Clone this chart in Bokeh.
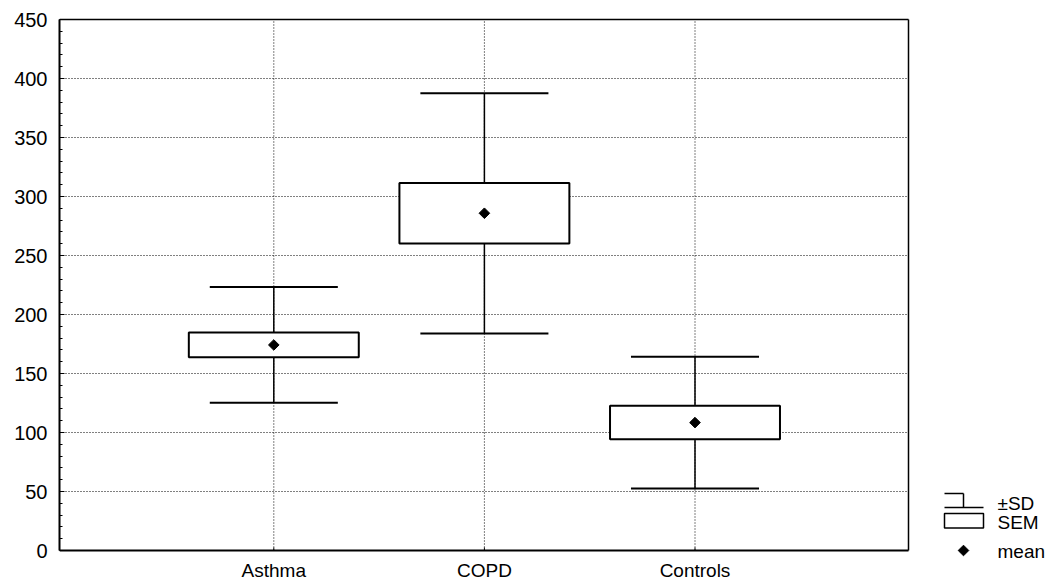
from bokeh.plotting import figure
from bokeh.models import Range1d, SingleIntervalTicker, ColumnDataSource
from bokeh.core.properties import value
from bokeh.embed import file_html
from bokeh.resources import INLINE

# ---- data ----
categories = ["Asthma", "COPD", "Controls"]
positions = [1, 2, 3]
mean = [174.2, 285.8, 108.4]
sem = [10.5, 25.6, 14.2]
sd = [49.0, 101.8, 55.9]
y_grid_values = [50, 100, 150, 200, 250, 300, 350, 400]
legend_labels = ["\u00b1SD", "SEM", "mean"]

sem_lo = [m - s for m, s in zip(mean, sem)]
sem_hi = [m + s for m, s in zip(mean, sem)]
sd_lo = [m - s for m, s in zip(mean, sd)]
sd_hi = [m + s for m, s in zip(mean, sd)]

CAP_W = 0.608
BOX_W = 0.807
cap_x0 = [x - CAP_W / 2 for x in positions]
cap_x1 = [x + CAP_W / 2 for x in positions]

src = ColumnDataSource(dict(x=positions, mean=mean, sem_lo=sem_lo, sem_hi=sem_hi,
                            sd_lo=sd_lo, sd_hi=sd_hi, cx0=cap_x0, cx1=cap_x1,
                            label=categories))

FONT = "Liberation Sans"
W, H = 1058, 581
# frame in page pixels (frame extends under the legend and the category labels)
FL, FR, FT, FB = 59, W, 17, H
PX_PER_CAT = 210.6          # horizontal pixels per category
PX_PER_UNIT = 531.0 / 450   # vertical pixels per data unit
PLOT_RIGHT_PX = 908         # right edge of the drawn plot box
Y450_PX = 19                # pixel row of the 450 line
CAT1_PX = 273.3             # pixel column of the first category

XS = positions[0] - (CAT1_PX - FL) / PX_PER_CAT
XE = XS + (FR - FL) / PX_PER_CAT
YE = 450 + (Y450_PX - FT) / PX_PER_UNIT
YS = YE - (FB - FT) / PX_PER_UNIT

def dx(px):
    return XS + (px - FL) / PX_PER_CAT
def dy(py):
    return YE - (py - FT) / PX_PER_UNIT

XR = dx(PLOT_RIGHT_PX)

p = figure(width=W, height=H, output_backend="svg", toolbar_location=None,
           x_range=Range1d(XS, XE), y_range=Range1d(YS, YE),
           x_axis_location=None,
           min_border_left=FL, min_border_right=0, min_border_top=FT,
           min_border_bottom=0)
p.background_fill_color = "white"
p.border_fill_color = "white"
p.outline_line_color = None
p.grid.visible = False

# y axis
ax = p.yaxis[0]
ax.ticker = SingleIntervalTicker(interval=50, num_minor_ticks=5)
ax.bounds = (0, 450)
ax.axis_line_color = "black"
ax.axis_line_width = 2
ax.major_tick_in = 5
ax.major_tick_out = 0
ax.minor_tick_in = 3
ax.minor_tick_out = 0
ax.major_tick_line_color = "black"
ax.minor_tick_line_color = "black"
ax.major_label_text_font = FONT
ax.major_label_text_font_size = "20px"
ax.major_label_text_color = "black"
ax.major_label_standoff = 12

# dotted grid lines
DOT = dict(line_color="black", line_dash="1 2", line_width=1)
p.segment(x0=[XS] * len(y_grid_values), y0=y_grid_values,
          x1=[XR] * len(y_grid_values), y1=y_grid_values, **DOT)
p.segment(x0=positions, y0=[0] * 3, x1=positions, y1=[450] * 3, **DOT)

# plot box: bottom axis line, top and right borders
p.segment(x0=[XS], y0=[0], x1=[XR], y1=[0], line_color="black", line_width=2)
p.segment(x0=[XS, XR], y0=[450, 0], x1=[XR, XR], y1=[450, 450],
          line_color="black", line_width=1.5)
# x ticks (pointing in)
p.segment(x0=positions, y0=[0] * 3, x1=positions, y1=[dy(547)] * 3,
          line_color="black", line_width=1)

# whisker stems
p.segment(x0="x", y0="sd_lo", x1="x", y1="sd_hi", source=src, line_color="black", line_width=1.5)
# caps
p.segment(x0="cx0", y0="sd_hi", x1="cx1", y1="sd_hi", source=src, line_color="black", line_width=2)
p.segment(x0="cx0", y0="sd_lo", x1="cx1", y1="sd_lo", source=src, line_color="black", line_width=2)
# SEM boxes
p.vbar(x="x", bottom="sem_lo", top="sem_hi", width=BOX_W, source=src,
       fill_color="white", line_color="black", line_width=2)
# means
p.scatter(x="x", y="mean", source=src, marker="square", angle=0.785398, size=7.5,
          fill_color="black", line_color="black")

# category labels
p.text(x="x", y=dy(570), text="label", source=src, text_font=value(FONT),
       text_font_size="19px", text_align="center", text_baseline="middle",
       text_color="black")

# ---- legend ----
# ±SD symbol
p.segment(x0=[dx(944), dx(963), dx(944)], y0=[dy(493), dy(493), dy(507)],
          x1=[dx(963), dx(963), dx(983)], y1=[dy(493), dy(507), dy(507)],
          line_color="black", line_width=1.5)
# SEM symbol
p.quad(left=[dx(944)], right=[dx(983)], top=[dy(513)], bottom=[dy(527.5)],
       fill_color="white", line_color="black", line_width=1.5)
# mean symbol
p.scatter(x=[dx(963)], y=[dy(550)], marker="square", angle=0.785398, size=7.5,
          fill_color="black", line_color="black")
p.text(x=[dx(997)] * 3, y=[dy(503), dy(521.5), dy(550.5)], text=legend_labels,
       text_font=value(FONT), text_font_size="19px", text_baseline="middle",
       text_align="left", text_color="black")

open("out.html", "w").write(file_html(p, INLINE))
